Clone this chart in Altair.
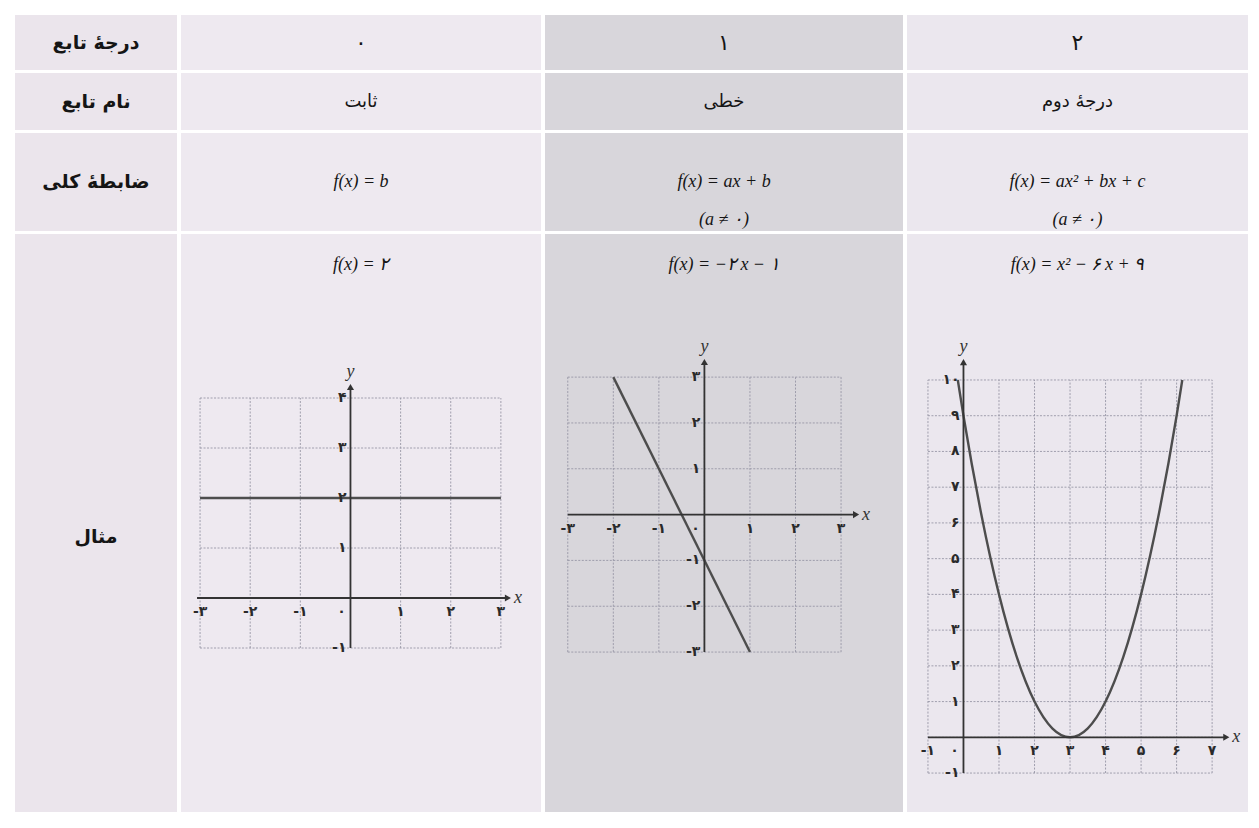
import altair as alt
import pandas as pd

# ---------------- table text ----------------
row_labels = ["درجهٔ تابع", "نام تابع", "ضابطهٔ کلی", "مثال"]
degrees = ["۰", "۱", "۲"]
func_names = ["ثابت", "خطی", "درجهٔ دوم"]
general_rules = ["f(x) = b", "f(x) = ax + b\n(a ≠ ۰)", "f(x) = ax² + bx + c\n(a ≠ ۰)"]
examples = ["f(x) = ۲", "f(x) = −۲\u2009x − ۱", "f(x) = x² − ۶\u2009x + ۹"]

# ---------------- graph 0 : constant f(x)=2 ----------------
g0_curve_x = [-3, 3]
g0_curve_y = [2, 2]
g0_grid_x = [-3, -2, -1, 0, 1, 2, 3]
g0_grid_y = [-1, 0, 1, 2, 3, 4]
g0_xticks = [-3, -2, -1, 1, 2, 3]
g0_xlabels = ["-۳", "-۲", "-۱", "۱", "۲", "۳"]
g0_yticks = [-1, 1, 2, 3, 4]
g0_ylabels = ["-۱", "۱", "۲", "۳", "۴"]
g0_axis_ends = [-3.06, 3.14, -1.0, 4.22]   # x-axis from/to, y-axis from/to

# ---------------- graph 1 : linear f(x)=-2x-1 ----------------
g1_curve_x = [-2, 1]
g1_curve_y = [3, -3]
g1_grid_x = [-3, -2, -1, 0, 1, 2, 3]
g1_grid_y = [-3, -2, -1, 0, 1, 2, 3]
g1_xticks = [-3, -2, -1, 1, 2, 3]
g1_xlabels = ["-۳", "-۲", "-۱", "۱", "۲", "۳"]
g1_yticks = [-3, -2, -1, 1, 2, 3]
g1_ylabels = ["-۳", "-۲", "-۱", "۱", "۲", "۳"]
g1_axis_ends = [-3.0, 3.33, -3.0, 3.33]

# ---------------- graph 2 : quadratic f(x)=x^2-6x+9 ----------------
g2_curve_x = [-0.16, 0, 0.5, 1, 1.5, 2, 2.5, 3, 3.5, 4, 4.5, 5, 5.5, 6, 6.16]
g2_curve_y = [10, 9, 6.25, 4, 2.25, 1, 0.25, 0, 0.25, 1, 2.25, 4, 6.25, 9, 10]
g2_grid_x = [-1, 0, 1, 2, 3, 4, 5, 6, 7]
g2_grid_y = [-1, 0, 1, 2, 3, 4, 5, 6, 7, 8, 9, 10]
g2_xticks = [-1, 1, 2, 3, 4, 5, 6, 7]
g2_xlabels = ["-۱", "۱", "۲", "۳", "۴", "۵", "۶", "۷"]
g2_yticks = [-1, 1, 2, 3, 4, 5, 6, 7, 8, 9, 10]
g2_ylabels = ["-۱", "۱", "۲", "۳", "۴", "۵", "۶", "۷", "۸", "۹", "۱۰"]
g2_axis_ends = [-1.0, 7.4, -1.0, 10.5]

# ---------------- styles / layout ----------------
FA_FONT = "DejaVu Sans"
MATH_FONT = "Liberation Serif"
COL_FILLS = ["#ebe5ec", "#eee9f0", "#d8d6db", "#ebe7ee"]
COL_W = [162, 360, 358, 341]
ROW_H = [55, 57, 98, 578]
FORMULA_H = 62
GRID_COLOR = "#9796a6"
AXIS_COLOR = "#333333"
CURVE_COLOR = "#4d4d4d"
TICK_COLOR = "#2a2a2a"


def text_cell(text, w, h, fill, font, size, weight="normal", style="normal", dy=0, lh=38):
    return (
        alt.Chart(pd.DataFrame({"t": [text]}))
        .mark_text(font=font, fontSize=size, fontWeight=weight, fontStyle=style,
                   color="#151515", lineBreak="\n", lineHeight=lh, dy=dy)
        .encode(text="t:N")
        .properties(width=w, height=h, view=alt.ViewBackground(fill=fill, strokeWidth=0))
    )


def graph(cx, cy, gx, gy, xt, xl, yt, yl, ends, xdom, ydom, w, h, fill, interp):
    xs = alt.Scale(domain=xdom, nice=False, zero=False)
    ys = alt.Scale(domain=ydom, nice=False, zero=False)

    def X(f):
        return alt.X(f, type="quantitative", scale=xs, axis=None)

    def Y(f):
        return alt.Y(f, type="quantitative", scale=ys, axis=None)

    vgrid = pd.DataFrame({"x": gx, "y": [min(gy)] * len(gx), "y2": [max(gy)] * len(gx)})
    hgrid = pd.DataFrame({"y": gy, "x": [min(gx)] * len(gy), "x2": [max(gx)] * len(gy)})
    grid_v = alt.Chart(vgrid).mark_rule(color=GRID_COLOR, strokeWidth=0.9, strokeDash=[2, 1.5]).encode(
        x=X("x"), y=Y("y"), y2="y2")
    grid_h = alt.Chart(hgrid).mark_rule(color=GRID_COLOR, strokeWidth=0.9, strokeDash=[2, 1.5]).encode(
        y=Y("y"), x=X("x"), x2="x2")

    xaxis = alt.Chart(pd.DataFrame({"x": [ends[0]], "x2": [ends[1]], "y": [0]})).mark_rule(
        color=AXIS_COLOR, strokeWidth=1.8).encode(x=X("x"), x2="x2", y=Y("y"))
    yaxis = alt.Chart(pd.DataFrame({"y": [ends[2]], "y2": [ends[3]], "x": [0]})).mark_rule(
        color=AXIS_COLOR, strokeWidth=1.8).encode(y=Y("y"), y2="y2", x=X("x"))
    arrow_x = alt.Chart(pd.DataFrame({"x": [ends[1]], "y": [0]})).mark_point(
        shape="triangle-right", filled=True, size=50, color=AXIS_COLOR, opacity=1).encode(x=X("x"), y=Y("y"))
    arrow_y = alt.Chart(pd.DataFrame({"x": [0], "y": [ends[3]]})).mark_point(
        shape="triangle-up", filled=True, size=50, color=AXIS_COLOR, opacity=1).encode(x=X("x"), y=Y("y"))

    curve = alt.Chart(pd.DataFrame({"x": cx, "y": cy, "i": list(range(len(cx)))})).mark_line(
        color=CURVE_COLOR, strokeWidth=2.4, interpolate=interp).encode(x=X("x"), y=Y("y"), order="i:Q")

    xlabels = alt.Chart(pd.DataFrame({"x": xt, "y": [0] * len(xt), "t": xl})).mark_text(
        font=FA_FONT, fontSize=14, fontWeight="bold", color=TICK_COLOR, dy=14).encode(
        x=X("x"), y=Y("y"), text="t:N")
    ylabels = alt.Chart(pd.DataFrame({"x": [0] * len(yt), "y": yt, "t": yl})).mark_text(
        font=FA_FONT, fontSize=14, fontWeight="bold", color=TICK_COLOR, align="right", dx=-4).encode(
        x=X("x"), y=Y("y"), text="t:N")
    zero = alt.Chart(pd.DataFrame({"x": [0], "y": [0], "t": ["۰"]})).mark_text(
        font=FA_FONT, fontSize=14, fontWeight="bold", color=TICK_COLOR, dx=-9, dy=14).encode(
        x=X("x"), y=Y("y"), text="t:N")
    xname = alt.Chart(pd.DataFrame({"x": [ends[1]], "y": [0], "t": ["x"]})).mark_text(
        font=MATH_FONT, fontStyle="italic", fontSize=18, color="#333333", align="left", dx=6).encode(
        x=X("x"), y=Y("y"), text="t:N")
    yname = alt.Chart(pd.DataFrame({"x": [0], "y": [ends[3]], "t": ["y"]})).mark_text(
        font=MATH_FONT, fontStyle="italic", fontSize=18, color="#333333", dy=-15).encode(
        x=X("x"), y=Y("y"), text="t:N")

    return alt.layer(grid_v, grid_h, curve, xaxis, yaxis, arrow_x, arrow_y,
                     xlabels, ylabels, zero, xname, yname).properties(
        width=w, height=h, view=alt.ViewBackground(fill=fill, strokeWidth=0))


graph_specs = [
    (g0_curve_x, g0_curve_y, g0_grid_x, g0_grid_y, g0_xticks, g0_xlabels, g0_yticks, g0_ylabels,
     g0_axis_ends, [-3.38, 3.8], [-4.28, 6.04], "linear"),
    (g1_curve_x, g1_curve_y, g1_grid_x, g1_grid_y, g1_xticks, g1_xlabels, g1_yticks, g1_ylabels,
     g1_axis_ends, [-3.5, 4.36], [-6.49, 4.77], "linear"),
    (g2_curve_x, g2_curve_y, g2_grid_x, g2_grid_y, g2_xticks, g2_xlabels, g2_yticks, g2_ylabels,
     g2_axis_ends, [-1.59, 8.01], [-2.09, 12.35], "monotone"),
]

# label column
label_col = alt.vconcat(
    text_cell(row_labels[0], COL_W[0], ROW_H[0], COL_FILLS[0], FA_FONT, 19, "bold"),
    text_cell(row_labels[1], COL_W[0], ROW_H[1], COL_FILLS[0], FA_FONT, 19, "bold"),
    text_cell(row_labels[2], COL_W[0], ROW_H[2], COL_FILLS[0], FA_FONT, 19, "bold"),
    text_cell(row_labels[3], COL_W[0], ROW_H[3], COL_FILLS[0], FA_FONT, 19, "bold", dy=14),
    spacing=3,
)

columns = [label_col]
for i in range(3):
    w = COL_W[i + 1]
    fill = COL_FILLS[i + 1]
    spec = graph_specs[i]
    g = graph(*spec[:9], spec[9], spec[10], w, ROW_H[3] - FORMULA_H, fill, spec[11])
    col = alt.vconcat(
        text_cell(degrees[i], w, ROW_H[0], fill, FA_FONT, 22),
        text_cell(func_names[i], w, ROW_H[1], fill, FA_FONT, 18),
        text_cell(general_rules[i], w, ROW_H[2], fill, MATH_FONT, 18, style="italic", lh=38),
        alt.vconcat(
            text_cell(examples[i], w, FORMULA_H, fill, MATH_FONT, 18, style="italic"),
            g,
            spacing=0,
        ),
        spacing=3,
    )
    columns.append(col)

chart = (
    alt.hconcat(*columns, spacing=4)
    .properties(padding={"left": 7, "top": 7, "right": 0, "bottom": 0}, background="#ffffff")
    .configure_view(strokeWidth=0)
)

chart.save("out.html", embed_options={"renderer": "svg", "actions": False})
